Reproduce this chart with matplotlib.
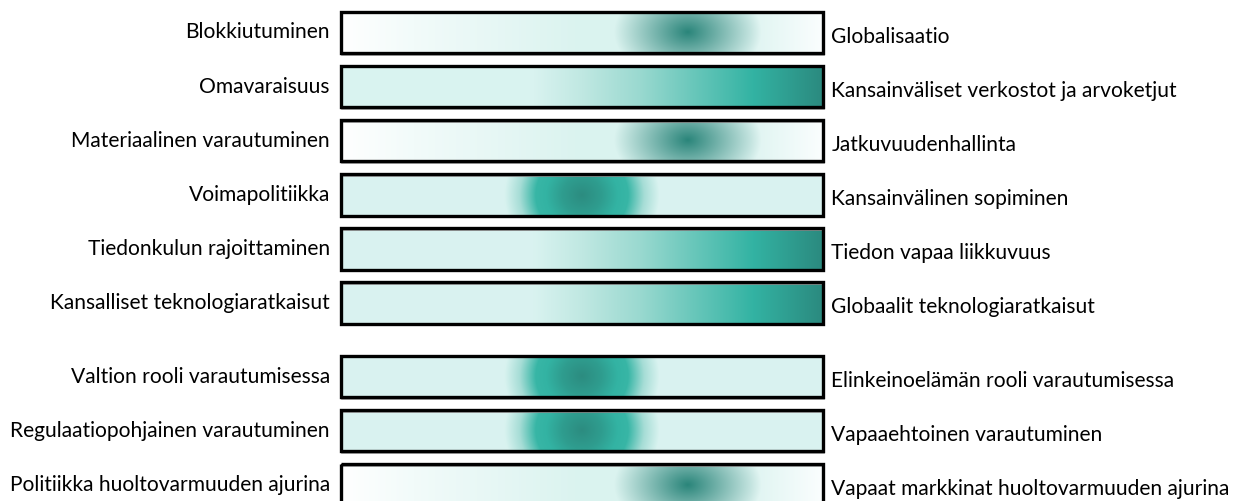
import numpy as np
import matplotlib
matplotlib.use("Agg")
import matplotlib.pyplot as plt
from matplotlib.colors import to_rgb
from matplotlib.patches import Rectangle

# ---------------- data ----------------
left_labels = [
    "Blokkiutuminen",
    "Omavaraisuus",
    "Materiaalinen varautuminen",
    "Voimapolitiikka",
    "Tiedonkulun rajoittaminen",
    "Kansalliset teknologiaratkaisut",
    "Valtion rooli varautumisessa",
    "Regulaatiopohjainen varautuminen",
    "Politiikka huoltovarmuuden ajurina",
]
right_labels = [
    "Globalisaatio",
    "Kansainväliset verkostot ja arvoketjut",
    "Jatkuvuudenhallinta",
    "Kansainvälinen sopiminen",
    "Tiedon vapaa liikkuvuus",
    "Globaalit teknologiaratkaisut",
    "Elinkeinoelämän rooli varautumisessa",
    "Vapaaehtoinen varautuminen",
    "Vapaat markkinat huoltovarmuuden ajurina",
]
# gradient style of each row: 'faded_spot', 'ramp', 'spot'
styles = ["faded_spot", "ramp", "faded_spot", "spot", "ramp", "ramp",
          "spot", "spot", "faded_spot"]
# location of the emphasis on the 0..1 scale (spot centre / ramp end)
peaks = [0.72, 1.0, 0.72, 0.50, 1.0, 1.0, 0.50, 0.50, 0.72]
group = [0, 0, 0, 0, 0, 0, 1, 1, 1]

# ---------------- layout ----------------
W, H = 1247, 501
DPI = 100
fig = plt.figure(figsize=(W / DPI, H / DPI), dpi=DPI)
bar_l, bar_r = 341, 823
ax = fig.add_axes([bar_l / W, 0, (bar_r - bar_l) / W, 1])
ax.set_xlim(0, 1)
row_px = 54.1
top_px = 32.5
ax.set_ylim((H - top_px) / row_px, -top_px / row_px)
ax.axis("off")

bar_h = 41.5 / row_px
gap = 0.36

LIGHT = "#d9f3f0"
TEAL = "#33b3a3"
DARK = "#2b8a7f"


def interp(stops, t):
    pos = np.array([s[0] for s in stops])
    cols = np.array([to_rgb(s[1]) for s in stops])
    out = np.empty(t.shape + (3,))
    for c in range(3):
        out[..., c] = np.interp(t, pos, cols[:, c])
    return out


nx, ny = 482, 42
xs = np.linspace(0, 1, nx)
ys = np.linspace(-0.5, 0.5, ny)
X, Y = np.meshgrid(xs, ys)
dx_px = X * (bar_r - bar_l)
dy_px = Y * 41.5


def make_img(style, peak):
    if style == "ramp":
        stops = [(0.0, LIGHT), (0.40, LIGHT), (0.5, "#c0e8e2"), (0.62, "#9ad9d0"),
                 (0.855 * peak, TEAL), (peak, DARK)]
        return interp(stops, X)
    if style == "spot":
        r = np.sqrt(((dx_px - peak * (bar_r - bar_l)) / 80) ** 2 + (dy_px / 75) ** 2)
        col = interp([(0.0, "#2c8c80"), (0.25, "#2f9d8f"), (0.45, TEAL),
                      (0.58, "#38b6a6"), (0.78, "#a6ddd6"), (0.97, LIGHT), (2, LIGHT)], r)
        return col
    # faded spot
    bg = interp([(0.0, "#ffffff"), (0.15, "#f2fbfa"), (0.5, "#daf3ef"),
                 (0.85, "#def4f1"), (1.0, "#fbfefe")], X)
    r = np.sqrt(((dx_px - peak * (bar_r - bar_l)) / 74) ** 2 + (dy_px / 50) ** 2)
    alpha = np.clip(1 - r, 0, 1) ** 1.0
    spot = np.array(to_rgb("#2a857a"))
    return bg * (1 - alpha[..., None]) + spot * alpha[..., None]


# font sizing: fit longest left label to the reference width
fam = ["Lato", "DejaVu Sans"]
probe = fig.text(0, 0, max(left_labels, key=len), fontsize=10, family=fam)
fig.canvas.draw()
w10 = probe.get_window_extent().width
probe.remove()
fs = 10 * 322 / w10

for i, (ll, rl, st, pk, g) in enumerate(zip(left_labels, right_labels, styles, peaks, group)):
    yc = i + gap * g
    img = make_img(st, pk)
    ax.imshow(img, extent=(0, 1, yc + bar_h / 2, yc - bar_h / 2), aspect="auto",
              interpolation="bilinear", zorder=1)
    ax.add_patch(Rectangle((0.003, yc - bar_h / 2 + 0.03), 1, bar_h, fill=False,
                           edgecolor="#9a9a9a", lw=1.2, zorder=1.5, clip_on=False))
    ax.add_patch(Rectangle((0, yc - bar_h / 2), 1, bar_h, fill=False,
                           edgecolor="black", lw=2.4, zorder=2, clip_on=False))
    ax.annotate(ll, (0, yc), xytext=(-8, 0), textcoords="offset points",
                ha="right", va="center", fontsize=fs, family=fam, annotation_clip=False)
    ax.annotate(rl, (1, yc), xytext=(6, -3), textcoords="offset points",
                ha="left", va="center", fontsize=fs, family=fam, annotation_clip=False)

ax.set_xlim(0, 1)
ax.set_ylim((H - top_px) / row_px, -top_px / row_px)
fig.savefig("out.png", dpi=DPI)
